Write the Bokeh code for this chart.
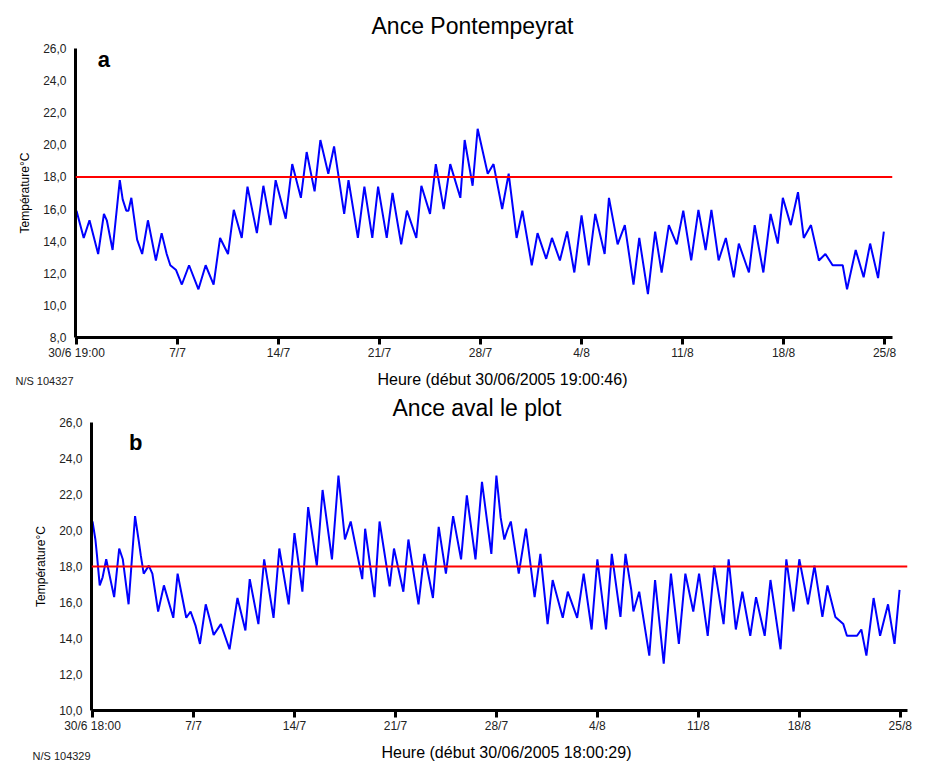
from bokeh.plotting import figure
from bokeh.layouts import column, row
from bokeh.models import Range1d, FixedTicker, Span, Label, Title
from bokeh.embed import file_html
from bokeh.resources import INLINE

# ---------------- data (days since start, temperature °C) ----------------
a_day = [0, 0.5, 0.9, 1.5, 1.9, 2.1, 2.5, 3.0, 3.2, 3.45,
         3.6, 3.8, 4.2, 4.55, 4.95, 5.5, 5.9, 6.25, 6.5, 6.9,
         7.3, 7.8, 8.45, 8.95, 9.5, 9.95, 10.5, 10.9, 11.45, 11.85,
         12.5, 12.95, 13.45, 13.8, 14.5, 14.95, 15.55, 15.95, 16.5, 16.9,
         17.45, 17.85, 18.55, 18.85, 19.5, 19.95, 20.5, 20.9, 21.5, 21.9,
         22.5, 22.9, 23.55, 23.9, 24.5, 24.9, 25.45, 25.9, 26.6, 26.9,
         27.45, 27.8, 28.5, 28.9, 29.5, 29.95, 30.5, 30.9, 31.55, 31.95,
         32.55, 32.95, 33.5, 34.0, 34.5, 35.0, 35.5, 35.95, 36.6, 36.9,
         37.5, 38.0, 38.6, 39.0, 39.6, 40.1, 40.55, 41.05, 41.6, 42.05,
         42.6, 43.1, 43.6, 44.0, 44.5, 45.0, 45.55, 45.9, 46.6, 47.0,
         47.6, 48.1, 48.6, 48.95, 49.5, 50.0, 50.4, 50.9, 51.45, 51.9,
         52.4, 53.1, 53.4, 54.0, 54.55, 55.0, 55.55, 55.95]
a_temp = [15.9, 14.2, 15.3, 13.2, 15.7, 15.3, 13.45, 17.8, 16.6, 15.9,
          15.9, 16.7, 14.1, 13.2, 15.3, 12.8, 14.5, 13.2, 12.5, 12.2,
          11.3, 12.5, 11.0, 12.5, 11.3, 14.2, 13.2, 15.95, 14.2, 17.4,
          14.5, 17.45, 15.0, 17.8, 15.4, 18.8, 16.7, 19.55, 17.1, 20.3,
          18.2, 19.9, 15.7, 17.8, 14.2, 17.4, 14.2, 17.4, 14.2, 17.0,
          13.8, 15.9, 14.2, 17.45, 15.7, 18.8, 16.0, 18.8, 16.7, 20.3,
          17.45, 21.0, 18.2, 18.8, 16.0, 18.2, 14.2, 15.9, 12.5, 14.5,
          12.9, 14.2, 12.8, 14.6, 12.05, 15.6, 12.5, 15.7, 13.2, 16.7,
          13.8, 15.0, 11.3, 14.2, 10.7, 14.6, 12.05, 15.0, 13.8, 15.9,
          12.8, 15.95, 13.45, 15.95, 12.8, 14.2, 11.75, 13.85, 12.05, 15.0,
          12.05, 15.7, 13.85, 16.7, 15.0, 17.05, 14.2, 15.0, 12.8, 13.2,
          12.5, 12.5, 11.0, 13.45, 11.75, 13.85, 11.7, 14.6]

b_day = [0, 0.2, 0.3, 0.5, 0.7, 0.95, 1.5, 1.85, 2.1, 2.5,
         2.95, 3.2, 3.35, 3.55, 3.9, 4.15, 4.55, 4.95, 5.6, 5.9,
         6.5, 6.8, 7.15, 7.45, 7.85, 8.15, 8.4, 8.9, 9.5, 10.05,
         10.6, 10.9, 11.5, 11.9, 12.55, 12.95, 13.6, 14.0, 14.55, 14.95,
         15.55, 15.95, 16.6, 17.05, 17.5, 17.9, 18.7, 18.9, 19.55, 19.9,
         20.6, 20.9, 21.55, 21.9, 22.6, 23.0, 23.6, 24.0, 24.5, 25.0,
         25.55, 25.95, 26.55, 27.0, 27.65, 28.0, 28.3, 28.55, 28.75, 29.0,
         29.55, 30.05, 30.65, 31.05, 31.55, 31.9, 32.6, 32.95, 33.6, 34.05,
         34.6, 35.0, 35.6, 36.0, 36.6, 36.95, 37.35, 37.5, 37.9, 38.6,
         39.0, 39.6, 40.1, 40.65, 41.1, 41.65, 42.05, 42.65, 43.1, 43.75,
         44.1, 44.6, 45.05, 45.6, 46.0, 46.6, 47.0, 47.7, 48.1, 48.6,
         49.0, 49.6, 50.05, 50.6, 50.95, 51.5, 52.05, 52.3, 53.0, 53.3,
         53.65, 54.15, 54.6, 55.15, 55.6, 55.95]
b_temp = [20.5, 19.5, 18.7, 16.95, 17.4, 18.4, 16.3, 19.0, 18.4, 15.9,
          20.8, 19.45, 18.6, 17.6, 18.05, 17.6, 15.5, 16.95, 15.15, 17.6,
          15.15, 15.5, 14.7, 13.7, 15.9, 15.0, 14.2, 14.8, 13.4, 16.25,
          14.45, 17.3, 14.8, 18.4, 15.15, 19.0, 15.9, 19.85, 16.6, 21.3,
          18.05, 22.25, 18.4, 23.05, 19.5, 20.5, 17.3, 20.1, 16.3, 20.5,
          16.9, 19.0, 16.6, 19.5, 15.9, 18.7, 16.25, 20.2, 17.6, 20.8,
          18.4, 21.95, 18.4, 22.7, 18.7, 23.05, 20.7, 19.5, 20.0, 20.5,
          17.6, 20.1, 16.3, 18.7, 14.8, 17.25, 15.15, 16.6, 15.15, 17.6,
          14.5, 18.4, 14.5, 18.7, 15.2, 18.7, 16.7, 15.5, 16.6, 13.05,
          17.25, 12.6, 17.6, 13.7, 17.6, 15.5, 17.6, 14.15, 18.05, 14.8,
          18.4, 14.5, 16.6, 14.15, 16.3, 14.15, 17.25, 13.4, 18.4, 15.5,
          18.4, 15.9, 18.05, 15.2, 16.95, 15.2, 14.8, 14.15, 14.15, 14.5,
          13.05, 16.25, 14.15, 15.9, 13.7, 16.7]

threshold = 18.0
x_ticks = [0, 7, 14, 21, 28, 35, 42, 49, 56]
a_x_labels = ["30/6 19:00", "7/7", "14/7", "21/7", "28/7", "4/8", "11/8", "18/8", "25/8"]
b_x_labels = ["30/6 18:00", "7/7", "14/7", "21/7", "28/7", "4/8", "11/8", "18/8", "25/8"]
a_y_ticks = [8, 10, 12, 14, 16, 18, 20, 22, 24, 26]
b_y_ticks = [10, 12, 14, 16, 18, 20, 22, 24, 26]

FONT = "Liberation Sans"


def panel(title, days, temps, x_labels, y_ticks, ylo, yhi, xend, h,
          bl, br, bt, bb, t_standoff, t_offset, letter, letter_xy,
          heure, heure_offset, heure_standoff, ns, ns_xy):
    p = figure(width=934, height=h, output_backend="svg", toolbar_location=None,
               x_range=Range1d(-0.07, xend), y_range=Range1d(ylo, yhi),
               min_border_left=bl, min_border_right=br,
               min_border_top=bt, min_border_bottom=bb)
    p.outline_line_color = None
    p.grid.visible = False
    p.background_fill_color = "white"
    p.border_fill_color = "white"

    p.title.text = title
    p.title.align = "left"
    p.title.offset = t_offset
    p.title.text_font = FONT
    p.title.text_font_size = "23px"
    p.title.text_font_style = "normal"
    p.title.text_color = "black"
    p.title.standoff = t_standoff

    xa = p.xaxis[0]
    xa.ticker = FixedTicker(ticks=x_ticks)
    xa.major_label_overrides = {t: l for t, l in zip(x_ticks, x_labels)}
    xa.axis_line_width = 3
    xa.axis_line_color = "black"
    xa.major_tick_line_width = 3
    xa.major_tick_out = 7
    xa.major_tick_in = 0
    xa.minor_tick_line_color = None
    xa.major_label_text_font = FONT
    xa.major_label_text_font_size = "12px"
    xa.major_label_text_color = "#222222"
    xa.major_label_standoff = 1

    ya = p.yaxis[0]
    ya.ticker = FixedTicker(ticks=y_ticks)
    ya.major_label_overrides = {t: f"{t},0" for t in y_ticks}
    ya.axis_line_width = 3
    ya.axis_line_color = "black"
    ya.major_tick_out = 0
    ya.major_tick_in = 0
    ya.major_tick_line_color = None
    ya.minor_tick_line_color = None
    ya.major_label_text_font = FONT
    ya.major_label_text_font_size = "12px"
    ya.major_label_text_color = "#222222"
    ya.major_label_standoff = 9
    ya.axis_label = "Température°C"
    ya.axis_label_text_font = FONT
    ya.axis_label_text_font_size = "12px"
    ya.axis_label_text_font_style = "normal"
    ya.axis_label_text_color = "black"
    ya.axis_label_standoff = 8

    # instrument id, drawn in the bottom side panel (not clipped to frame)
    p.add_layout(Label(x=ns_xy[0], y=ns_xy[1], text=ns,
                       text_font=FONT, text_font_size="11px",
                       text_align="left", text_baseline="middle",
                       text_color="#222222"), "below")
    # x-axis caption below the axis
    p.add_layout(Title(text=heure, align="left", offset=heure_offset,
                       text_font=FONT, text_font_size="16px",
                       text_font_style="normal", text_color="black",
                       standoff=heure_standoff), "below")

    p.add_layout(Span(location=threshold, dimension="width",
                      line_color="#ff0000", line_width=2))
    p.line(days, temps, line_color="#0000ff", line_width=2)

    p.add_layout(Label(x=letter_xy[0], y=letter_xy[1], text=letter,
                       text_font=FONT, text_font_size="22px",
                       text_font_style="bold", text_align="center",
                       text_baseline="middle", text_color="black"))
    return p


pa = panel("Ance Pontempeyrat", a_day, a_temp, a_x_labels, a_y_ticks, 8, 26,
           56.55, 390, 75, 42, 48, 53, 19, 296, "a", (1.9, 25.3),
           "Heure (début 30/06/2005 19:00:46)", 302, -11,
           "N/S 104327", (-4.23, 5.32))
pb = panel("Ance aval le plot", b_day, b_temp, b_x_labels, b_y_ticks, 10, 26,
           56.5, 372, 91, 27, 32, 52, 3, 301, "b", (3.0, 24.9),
           "Heure (début 30/06/2005 18:00:29)", 290, -11,
           "N/S 104329", (-4.16, 7.45))

layout = column(row(pa), row(pb), spacing=0)
open("out.html", "w").write(file_html(layout, INLINE))
